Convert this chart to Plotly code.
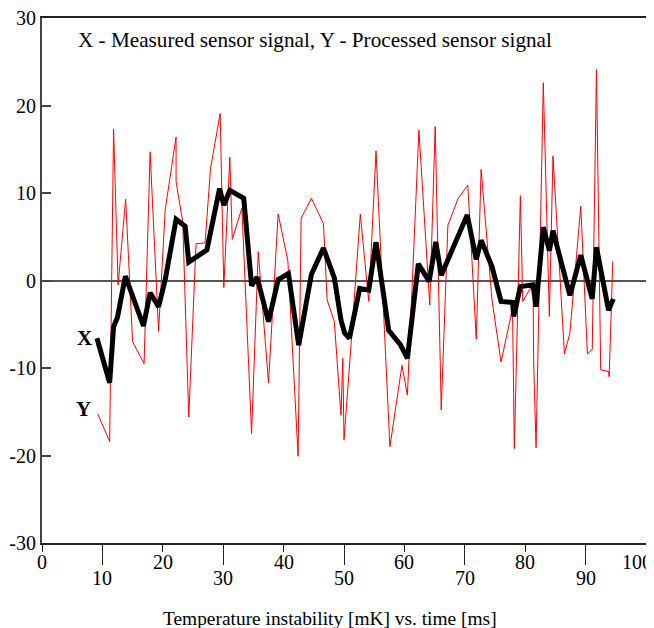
import plotly.graph_objects as go

# Measured (red, thin) signal
red_x = [9.2, 11.2, 11.85, 12.6, 13.85, 15.0, 16.9, 17.9, 19.3, 20.4, 22.2, 22.2, 23.3, 24.3,
         25.5, 27.0, 27.9, 29.5, 30.1, 31.1, 31.5, 33.1, 34.7, 35.8, 37.5, 39.1, 40.7, 42.4,
         42.9, 44.6, 46.6, 47.2, 48.4, 49.5, 49.8, 50.0, 51.0, 52.7, 54.1, 55.3, 57.6, 59.6,
         60.5, 62.4, 64.2, 65.1, 66.1, 67.2, 68.9, 70.5, 71.9, 72.7, 74.5, 76.0, 77.9, 78.2,
         79.2, 79.6, 81.3, 81.4, 81.8, 83.0, 84.0, 84.6, 86.5, 87.4, 89.2, 90.3, 91.1, 91.8,
         92.5, 93.8, 93.9, 94.5]
red_y = [-15.2, -18.4, 17.3, -0.5, 9.3, -7.0, -9.5, 14.7, -5.8, 8.1, 16.4, 11.3, 6.7, -15.6,
         4.2, 4.3, 12.8, 19.1, -0.8, 14.1, 4.7, 8.3, -17.5, 3.3, -11.7, 7.6, 2.3, -20.1,
         7.1, 9.4, 6.5, -2.2, -4.7, -15.4, -8.9, -18.2, -8.9, 7.6, -2.4, 14.8, -19.0, -9.7,
         -13.1, 17.2, -2.8, 17.6, -14.8, 6.3, 9.4, 10.9, -6.7, 12.7, -2.2, -9.3, -3.2, -19.2,
         9.7, -2.4, -0.4, -9.3, -19.1, 22.6, -4.1, 14.2, -8.4, -6.0, 8.5, -8.4, -7.9, 24.1,
         -10.2, -10.4, -11.0, 2.2]

# Processed (black, thick) signal
blk_x = [9.1, 11.2, 11.85, 12.5, 13.8, 16.8, 17.9, 19.3, 20.4, 22.2, 23.7, 24.3, 27.3, 29.4,
         30.1, 31.1, 33.4, 34.7, 35.6, 37.5, 39.1, 40.8, 42.5, 44.6, 46.6, 48.4, 49.5, 50.1,
         50.9, 52.6, 54.1, 55.3, 57.4, 59.3, 60.5, 62.3, 64.1, 65.2, 66.1, 70.4, 71.9, 72.7,
         74.5, 76.0, 77.9, 78.1, 79.2, 81.3, 81.8, 83.0, 84.0, 84.6, 87.4, 89.2, 91.1, 91.8,
         93.8, 94.6]
blk_y = [-6.6, -11.7, -5.3, -4.2, 0.5, -5.2, -1.4, -3.0, 0.1, 7.0, 6.2, 2.1, 3.5, 10.5,
         8.6, 10.3, 9.4, -0.6, 0.4, -4.7, 0.1, 0.8, -7.4, 0.7, 3.7, 0.3, -4.5, -6.0,
         -6.6, -0.9, -1.1, 4.4, -5.7, -7.3, -8.9, 1.9, -0.1, 4.4, 0.6, 7.5, 2.4, 4.6,
         1.6, -2.4, -2.5, -4.1, -0.7, -0.5, -3.0, 6.1, 3.4, 5.7, -1.7, 2.9, -2.1, 3.8,
         -3.4, -2.1]

y_ticks = [-30, -20, -10, 0, 10, 20, 30]
y_ticktext = ["-30", "-20", "-10", "0", "10", "20", "30"]
x_even = [0, 20, 40, 60, 80, 100]
x_odd = [10, 30, 50, 70, 90]

title_text = "X - Measured sensor signal, Y - Processed sensor signal"
x_title = "Temperature instability [mK] vs. time [ms]"

FONT = "Liberation Serif, Times New Roman, serif"

fig = go.Figure()
fig.add_trace(go.Scatter(x=red_x, y=red_y, mode="lines",
                         line=dict(color="#ff0000", width=1), showlegend=False))
fig.add_trace(go.Scatter(x=blk_x, y=blk_y, mode="lines",
                         line=dict(color="#000000", width=5), showlegend=False))
# empty helper traces so the overlaid tick-mark axes get drawn
fig.add_trace(go.Scatter(x=[], y=[], xaxis="x3", yaxis="y", showlegend=False, hoverinfo="skip"))
fig.add_trace(go.Scatter(x=[], y=[], xaxis="x4", yaxis="y", showlegend=False, hoverinfo="skip"))

fig.update_layout(
    template="none",
    width=646, height=620,
    margin=dict(l=34, r=8, t=10, b=85),
    paper_bgcolor="white", plot_bgcolor="white",
    font=dict(family=FONT, size=20, color="black"),
    showlegend=False,
    xaxis=dict(range=[0, 100], showticklabels=False, ticks="",
               showgrid=False, zeroline=False, showline=True,
               linecolor="#222", linewidth=1.5, mirror=True, automargin=False),
    # long ticks under the odd (lower-row) labels
    xaxis3=dict(range=[0, 100], overlaying="x", anchor="y", side="bottom",
                tickvals=x_odd, ticks="outside", ticklen=21, tickwidth=1.2,
                tickcolor="#222", showticklabels=False, automargin=False,
                showgrid=False, zeroline=False, showline=False),
    # short ticks above the even (upper-row) labels
    xaxis4=dict(range=[0, 100], overlaying="x", anchor="y", side="bottom",
                tickvals=x_even, ticks="outside", ticklen=8, tickwidth=1.2,
                tickcolor="#222", showticklabels=False, automargin=False,
                showgrid=False, zeroline=False, showline=False),
    yaxis=dict(range=[-30, 30], tickvals=y_ticks, ticktext=y_ticktext,
               ticks="inside", ticklen=9, tickwidth=1.5, tickcolor="#444",
               showgrid=False, zeroline=True, zerolinecolor="#555", zerolinewidth=2,
               showline=True, linecolor="#444", linewidth=2, mirror=True,
               automargin=False, ticklabeloverflow="allow",
               tickfont=dict(family=FONT, size=20)),
)

# staggered x tick labels: even values on the upper row, odd values on the lower row
for v in x_even:
    fig.add_annotation(text=str(v), xref="x", yref="paper", x=v, y=-0.0362,
                       xanchor="center", yanchor="middle", showarrow=False,
                       xshift=(-9 if v == 100 else 0),
                       font=dict(family=FONT, size=20, color="black"))
for v in x_odd:
    fig.add_annotation(text=str(v), xref="x", yref="paper", x=v, y=-0.0667,
                       xanchor="center", yanchor="middle", showarrow=False,
                       font=dict(family=FONT, size=20, color="black"))

fig.add_annotation(text=title_text, xref="paper", yref="paper", x=0.056, y=0.958,
                   xanchor="left", yanchor="middle", showarrow=False,
                   font=dict(family=FONT, size=21.2, color="black"))
fig.add_annotation(text=x_title, xref="paper", yref="paper", x=0.477, y=-0.143,
                   xanchor="center", yanchor="middle", showarrow=False,
                   font=dict(family=FONT, size=19.4, color="black"))
fig.add_annotation(text="<b>X</b>", xref="x", yref="y", x=7.0, y=-6.6,
                   showarrow=False, font=dict(family=FONT, size=21, color="black"))
fig.add_annotation(text="<b>Y</b>", xref="x", yref="y", x=6.9, y=-14.7,
                   showarrow=False, font=dict(family=FONT, size=21, color="black"))

fig.write_html("out.html")
